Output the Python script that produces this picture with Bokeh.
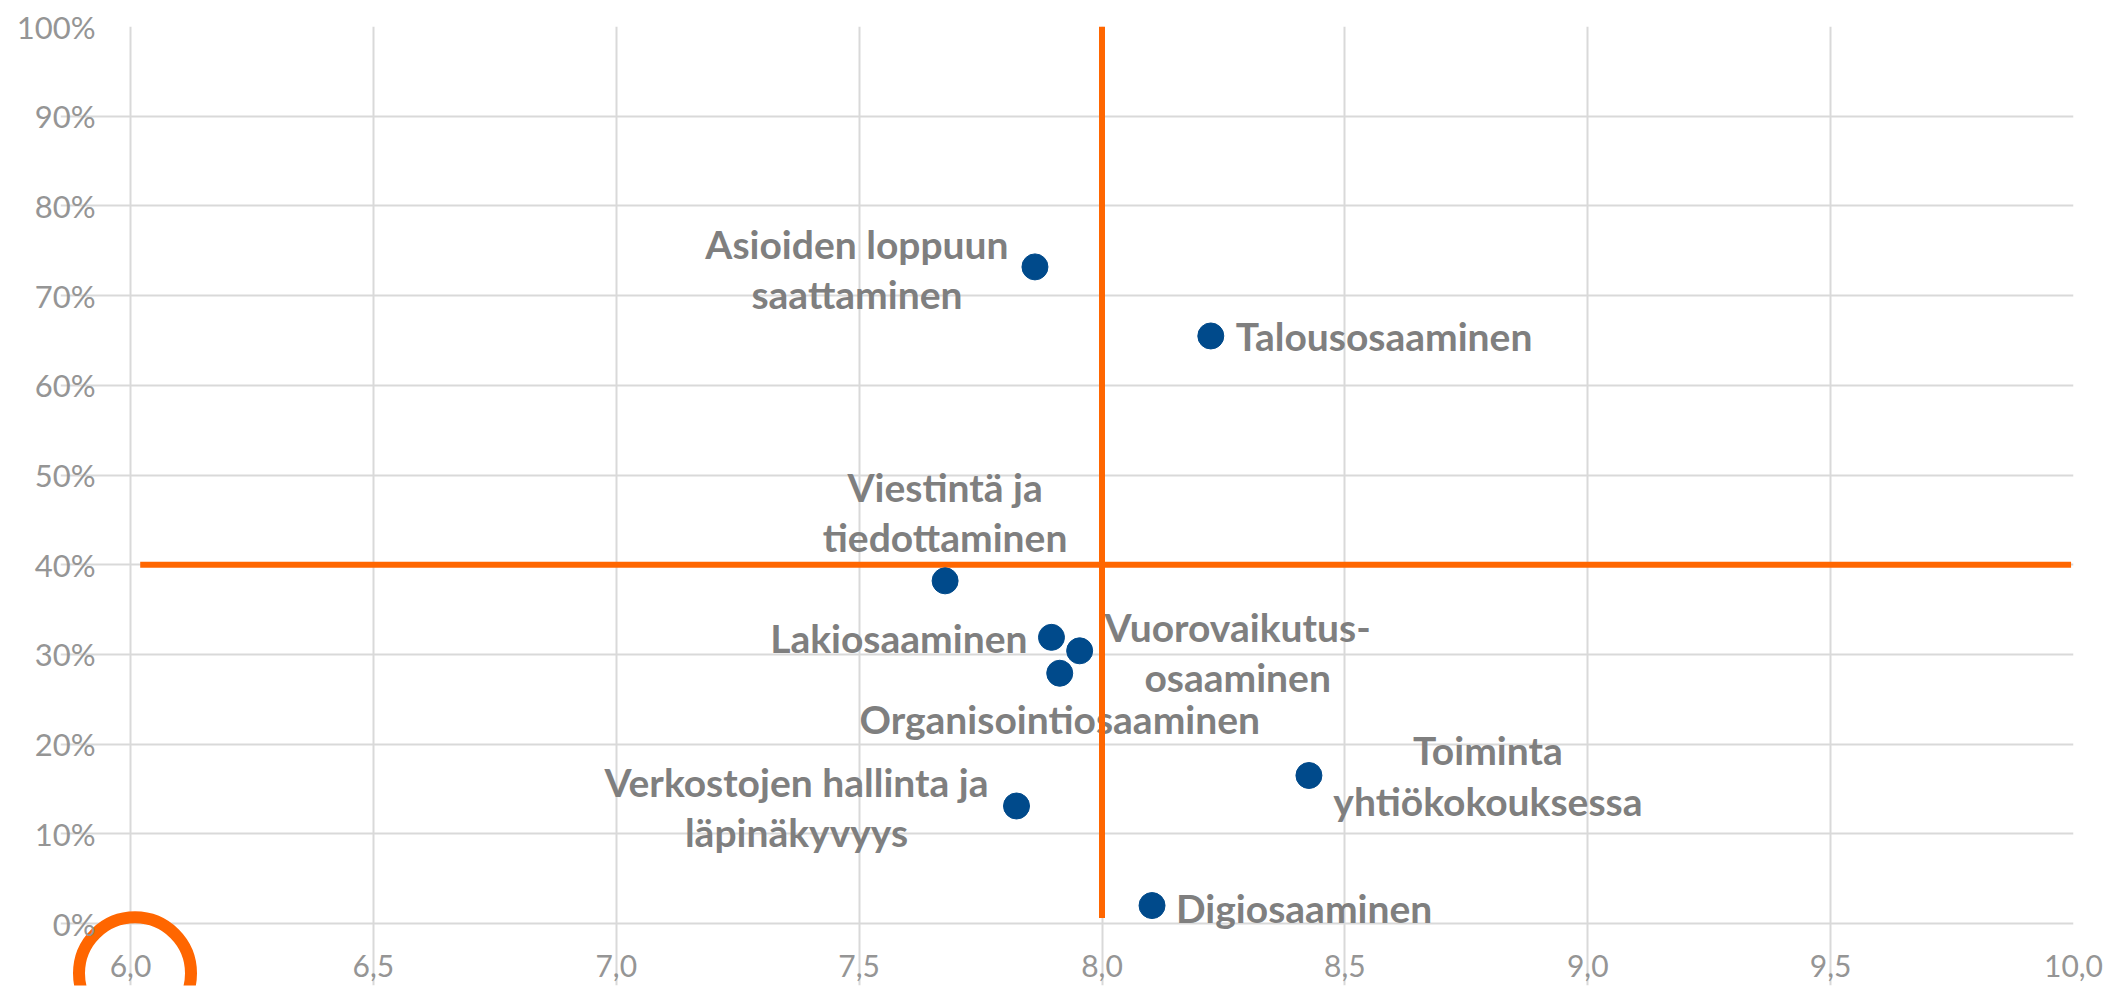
from bokeh.plotting import figure
from bokeh.models import FixedTicker, Range1d, ColumnDataSource
from bokeh.core.properties import value
from bokeh.embed import file_html
from bokeh.resources import INLINE

# ---- data ----
names = [
    "Asioiden loppuun\nsaattaminen",
    "Talousosaaminen",
    "Viestintä ja\ntiedottaminen",
    "Lakiosaaminen",
    "Vuorovaikutus-\nosaaminen",
    "Organisointiosaaminen",
    "Verkostojen hallinta ja\nläpinäkyvyys",
    "Toiminta\nyhtiökokouksessa",
    "Digiosaaminen",
]
score = [7.862, 8.224, 7.677, 7.896, 7.954, 7.913, 7.824, 8.426, 8.103]
share = [0.732, 0.655, 0.382, 0.319, 0.304, 0.279, 0.131, 0.165, 0.020]

x_ticks = [6.0, 6.5, 7.0, 7.5, 8.0, 8.5, 9.0, 9.5, 10.0]
x_tick_labels = ["6,0", "6,5", "7,0", "7,5", "8,0", "8,5", "9,0", "9,5", "10,0"]
y_ticks = [0.0, 0.1, 0.2, 0.3, 0.4, 0.5, 0.6, 0.7, 0.8, 0.9, 1.0]
y_tick_labels = ["0%", "10%", "20%", "30%", "40%", "50%", "60%", "70%", "80%", "90%", "100%"]

h_line_x = [6.02, 9.995]
h_line_y = [0.40, 0.40]
v_line_x = [8.0, 8.0]
v_line_y = [0.006, 1.0]

# orange ring highlighting the "6,0" tick label
highlight_tick = 6.0

# ---- layout / style ----
W, H = 2118, 991
BORDER_L, BORDER_R, BORDER_T, BORDER_B = 60, 45, 26, 6
PX_PER_X = 1943 / 4.0        # plot width of the 6..10 span
PX_PER_Y = 897.0             # plot height of the 0..1 span
AXIS_LEFT_PX = 130           # where x = 6.0 sits on the page
frame_w = W - BORDER_L - BORDER_R
frame_h = H - BORDER_T - BORDER_B
x_start = x_ticks[0] - (AXIS_LEFT_PX - BORDER_L) / PX_PER_X
x_end = x_start + frame_w / PX_PER_X
y_end = y_ticks[-1]
y_start = y_end - frame_h / PX_PER_Y

ring_dx = 4.5 / PX_PER_X      # ring centre slightly right of the tick
ring_level = -49.8 / PX_PER_Y  # ring centre below the 0 % line

label_align = ["center", "left", "center", "right", "center", "center", "center", "center", "left"]
label_dx = [-178, 25, 0, -24, 158, 0, -220, 179, 24]
label_dy = [2, 0, -69, 1, 1, 46, 1, 0, 2]

ORANGE = "#ff6600"
GRID = "#d9d9d9"
TICK = "#959595"

p = figure(
    width=W, height=H,
    x_range=Range1d(x_start, x_end), y_range=Range1d(y_start, y_end),
    output_backend="svg", toolbar_location=None,
    min_border_left=BORDER_L, min_border_right=BORDER_R,
    min_border_top=BORDER_T, min_border_bottom=BORDER_B,
)
p.background_fill_color = "white"
p.border_fill_color = "white"
p.outline_line_color = None

# x labels: box top ~954px on the page; y labels: right edge ~95px on the page
x_standoff = 954 - (H - BORDER_B)
y_standoff = BORDER_L - 95
for ax, ticks, labels, standoff, fs in ((p.xaxis[0], x_ticks, x_tick_labels, x_standoff, "30px"),
                                        (p.yaxis[0], y_ticks, y_tick_labels, y_standoff, "31px")):
    ax.ticker = FixedTicker(ticks=ticks)
    ax.major_label_overrides = {t: l for t, l in zip(ticks, labels)}
    ax.axis_line_color = None
    ax.major_tick_line_color = None
    ax.minor_tick_line_color = None
    ax.major_tick_out = 0
    ax.major_tick_in = 0
    ax.major_label_standoff = standoff
    ax.major_label_text_font = "Lato"
    ax.major_label_text_font_size = fs
    ax.major_label_text_color = TICK

p.xgrid.ticker = FixedTicker(ticks=x_ticks)
p.ygrid.ticker = FixedTicker(ticks=y_ticks)
p.xgrid.bounds = (y_ticks[0], y_ticks[-1])
p.ygrid.bounds = (x_ticks[0], x_ticks[-1])
for g in (p.xgrid, p.ygrid):
    g.grid_line_color = GRID
    g.grid_line_width = 2

src = ColumnDataSource(dict(x=score, y=share, text=names, align=label_align,
                            dx=label_dx, dy=label_dy))
p.text(x="x", y="y", text="text", source=src, x_offset="dx", y_offset="dy",
       text_align="align", text_baseline="middle",
       text_font=value("Lato"), text_font_style="bold", text_font_size="39px",
       text_color="#7f7f7f", text_line_height=1.1)

p.line(h_line_x, h_line_y, line_width=6, line_color=ORANGE)
p.line(v_line_x, v_line_y, line_width=6, line_color=ORANGE)

p.scatter(score, share, size=26, fill_color="#004a8b", line_color="#004a8b")

# highlight ring around the first x tick label
p.scatter([highlight_tick + ring_dx], [ring_level], marker="circle", size=112,
          fill_color=None, line_color=ORANGE, line_width=12)

open("out.html", "w").write(file_html(p, INLINE))
